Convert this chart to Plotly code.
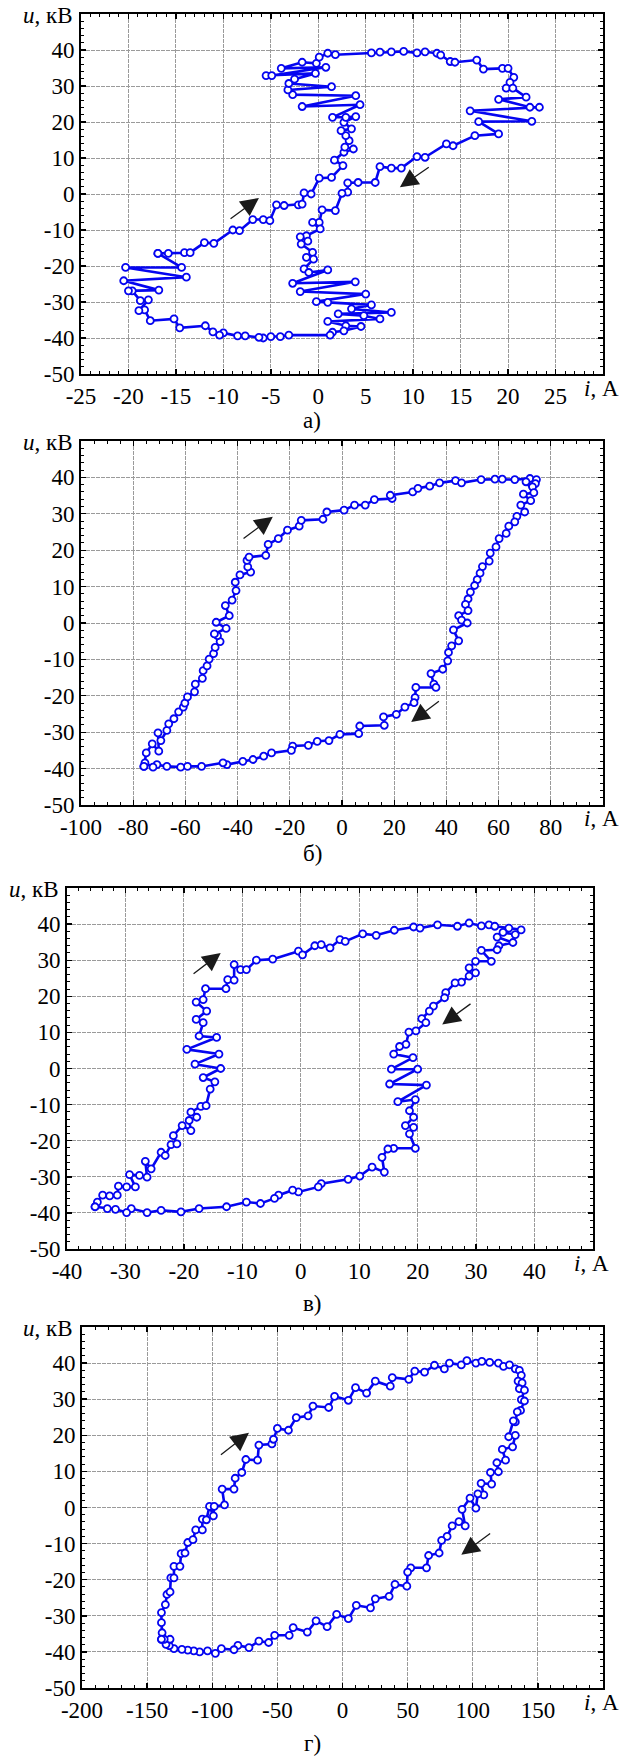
import plotly.graph_objects as go

# ---------------- data: panel а) ----------------
a_i = [-16.9,-15.8,-14.1,-13.5,-12.0,-11.0,-9.0,-8.3,-6.9,-5.8,-5.1,-4.4,-3.6,-2.1,-1.7,-1.5,-0.75,0.1,1.4,2.6,
       1.7,2.7,3.7,2.8,3.25,2.9,2.4,3.5,2.7,3.95,2.9,1.5,4.4,-1.7,3.95,-2.7,-3.2,1.4,-3.1,-2.5,
       -0.3,-5.5,-4.9,0.8,-3.9,-1.7,-0.2,0.1,1.0,1.8,5.6,6.5,7.7,9.0,10.4,11.25,12.5,12.9,13.9,14.4,
       16.7,17.4,19.4,20.0,20.6,20.2,19.8,20.5,21.9,19.0,22.3,23.3,16.0,22.5,16.9,19.0,16.5,14.2,13.5,11.25,
       10.4,8.75,7.7,6.5,6.0,4.2,3.1,3.1,2.5,1.8,0.4,0.1,-0.6,0.2,-1.25,-1.9,-1.1,-1.8,-0.6,-1.25,
       -0.5,-1.5,-1.0,1.0,-2.7,3.9,-1.9,5.0,-0.2,1.0,5.6,3.5,7.7,2.1,4.8,6.5,1.0,2.9,4.5,2.7,
       1.5,1.25,-3.1,-4.0,-5.0,-5.8,-6.25,-7.7,-8.5,-10.0,-10.4,-11.1,-11.9,-14.6,-15.2,-17.7,-18.3,-18.9,-17.9,-18.75,
       -19.6,-20.0,-16.8,-20.5,-13.9,-20.3,-14.4,-16.9]
a_u = [-16.5,-16.5,-16.3,-16.3,-13.5,-13.7,-10.0,-10.2,-7.1,-7.1,-7.4,-3.0,-3.2,-3.0,-2.8,0.3,0.0,4.4,4.6,7.9,
       9.4,11.6,12.5,13.0,14.8,16.2,17.6,18.1,19.9,21.5,21.3,21.3,24.8,24.3,27.3,27.6,28.9,29.8,30.7,31.9,
       33.5,32.9,32.9,35.2,34.9,36.6,36.3,38.0,39.1,38.7,39.2,39.4,39.5,39.6,39.2,39.5,39.1,38.6,36.8,36.6,
       37.2,34.7,34.9,34.9,32.4,31.0,29.4,29.4,26.9,26.3,24.1,24.1,23.1,20.2,20.1,16.7,16.2,13.4,13.9,10.2,
       10.4,7.2,7.2,7.6,3.2,3.2,3.1,0.5,0.2,-4.6,-4.4,-7.9,-7.9,-9.7,-11.6,-11.9,-13.1,-13.9,-16.2,-17.6,
       -18.1,-20.8,-21.8,-21.1,-24.8,-24.4,-27.1,-27.8,-29.9,-30.1,-30.8,-31.9,-32.9,-33.3,-33.8,-34.7,-35.4,-36.6,-36.8,-38.0,
       -38.4,-39.2,-39.2,-39.6,-39.6,-40.0,-39.8,-39.4,-39.4,-38.6,-39.2,-38.3,-36.6,-37.2,-34.7,-35.2,-32.2,-32.4,-29.4,-29.6,
       -26.9,-26.9,-26.7,-24.1,-23.1,-20.4,-20.4,-16.5]

# ---------------- data: panel б) ----------------
b_i = [-75.9,-75.0,-72.7,-70.2,-70.5,-69.4,-67.1,-66.4,-64.4,-62.6,-60.8,-60.2,-59.2,-56.5,-56.2,-53.5,-53.2,-51.7,-50.9,-49.2,
       -48.6,-46.7,-47.7,-48.9,-44.4,-48.2,-43.2,-44.7,-42.1,-40.6,-40.9,-39.1,-35.0,-36.1,-36.4,-35.6,-29.2,-28.3,-24.4,-20.9,
       -16.4,-15.6,-7.3,-5.8,0.8,4.8,8.9,12.4,19.2,18.5,27.1,29.1,33.6,37.4,43.5,45.8,53.3,58.6,61.4,66.2,
       72.0,74.5,74.1,73.0,70.5,73.5,69.5,72.3,68.5,70.0,67.0,66.2,63.9,62.9,60.2,59.0,56.8,56.4,53.8,52.9,
       51.8,50.8,49.2,48.3,47.3,48.3,44.7,45.8,48.0,42.7,44.7,42.0,40.8,40.5,38.6,34.1,35.2,36.0,28.3,28.0,
       27.6,24.1,20.8,15.9,16.2,6.8,6.4,-0.8,-5.0,-9.5,-12.9,-18.9,-19.4,-27.0,-30.0,-34.1,-38.0,-44.1,-45.6,-53.8,
       -59.2,-61.8,-67.1,-70.9,-72.4,-75.5,-75.9]
b_u = [-39.4,-35.7,-33.2,-35.2,-30.2,-32.3,-29.5,-27.7,-26.3,-24.4,-23.1,-22.0,-20.3,-18.9,-16.8,-15.2,-13.1,-11.8,-9.9,-8.4,
       -6.7,-5.1,-3.5,-3.0,-1.5,0.2,2.0,4.8,6.3,8.9,11.2,13.2,14.0,15.4,17.2,18.1,18.6,21.6,23.2,25.5,
       26.6,28.2,28.5,30.5,31.0,32.4,32.4,33.9,34.2,35.1,36.0,37.0,37.6,38.5,39.1,38.5,39.4,39.5,39.5,39.4,
       39.7,39.4,38.3,37.4,38.8,35.8,35.4,33.6,32.4,30.5,29.3,27.8,26.6,24.6,23.2,20.9,19.2,17.0,15.5,13.7,
       11.9,10.3,8.5,6.6,5.1,3.4,2.0,0.8,0.0,-1.9,-4.9,-6.3,-8.1,-10.4,-12.7,-13.9,-16.8,-17.7,-17.7,-20.5,
       -21.9,-23.1,-25.1,-25.8,-28.1,-28.3,-30.4,-30.6,-32.3,-32.5,-33.6,-33.8,-35.0,-35.7,-36.6,-37.5,-38.0,-38.9,-38.4,-39.4,
       -39.4,-39.6,-39.4,-38.9,-39.6,-38.4,-39.4]

# ---------------- data: panel в) ----------------
v_i = [-35.2,-34.8,-33.9,-32.7,-31.4,-31.2,-29.8,-28.3,-29.3,-27.6,-26.3,-26.6,-25.6,-23.9,-23.2,-22.2,-21.2,-21.8,-20.3,-18.8,
       -19.1,-17.8,-18.8,-17.1,-16.2,-15.5,-14.7,-16.7,-13.7,-18.1,-14.0,-19.5,-14.4,-17.4,-16.7,-17.9,-16.1,-17.9,-16.7,-16.3,
       -12.8,-12.5,-11.4,-11.4,-10.3,-9.3,-7.6,-4.8,-0.4,0.3,2.4,3.5,5.0,6.7,7.6,10.6,12.9,16.0,19.3,20.4,
       23.4,26.8,28.8,30.9,32.2,33.2,35.6,37.7,36.7,34.6,33.6,36.3,33.9,33.6,30.9,32.6,29.9,28.8,29.9,28.8,
       27.5,26.4,24.8,24.6,22.7,22.0,20.7,21.4,19.7,18.5,18.0,16.9,15.9,19.2,15.5,20.0,15.2,21.5,16.6,19.6,
       18.6,19.3,17.9,19.3,18.6,19.6,15.9,14.9,13.9,14.3,12.2,10.1,8.1,3.5,3.0,-0.4,-1.4,-3.8,-4.5,-6.9,
       -9.3,-12.7,-17.4,-20.5,-23.9,-26.3,-29.0,-29.8,-31.7,-33.1,-35.2]
v_u = [-38.3,-37.0,-35.1,-35.3,-35.1,-32.6,-32.8,-32.8,-29.4,-29.6,-30.1,-25.7,-27.8,-23.2,-24.1,-21.1,-20.9,-18.6,-15.8,-17.2,
       -14.4,-13.5,-12.1,-10.5,-10.3,-5.7,-3.7,-2.5,0.0,1.2,4.0,5.3,8.6,9.0,12.7,13.6,15.9,18.4,19.1,22.1,
       22.1,24.6,24.5,28.8,27.4,27.4,30.0,30.3,32.5,31.5,34.0,34.3,33.4,35.7,35.2,37.3,36.9,38.3,39.2,38.9,
       39.8,39.4,40.3,39.5,39.8,39.4,38.9,38.4,37.1,37.7,36.4,34.9,34.0,32.9,32.7,29.7,29.7,27.9,26.5,25.6,
       23.9,23.7,21.0,19.6,17.3,15.9,13.8,12.7,10.4,10.1,6.7,6.1,4.0,3.0,-0.2,-0.2,-4.3,-4.6,-9.2,-8.6,
       -11.7,-13.5,-15.8,-16.3,-18.1,-22.1,-22.1,-22.3,-24.6,-28.7,-27.3,-29.8,-30.7,-31.9,-32.8,-34.2,-33.7,-35.1,-36.0,-37.4,
       -37.0,-38.3,-38.8,-39.7,-39.3,-39.9,-38.8,-39.9,-39.0,-38.8,-38.3]

# ---------------- data: panel г) ----------------
g_i = [-139.0,-138.5,-139.0,-139.0,-136.0,-134.8,-132.4,-131.8,-129.4,-129.4,-124.8,-123.9,-120.9,-118.8,-114.8,-112.7,-107.6,-107.6,-104.5,-102.1,
       -99.1,-98.5,-90.6,-92.4,-83.3,-82.4,-77.3,-74.2,-65.2,-64.2,-54.2,-53.0,-50.0,-41.5,-35.5,-26.4,-22.7,-10.6,-6.1,4.5,
       10.0,18.5,25.2,36.7,38.2,50.9,55.5,63.0,70.6,78.2,82.1,91.2,95.5,102.4,107.0,113.0,119.7,123.6,128.2,132.7,
       135.8,137.3,134.8,137.9,135.8,139.7,137.3,139.7,136.7,134.2,132.7,131.2,127.6,132.7,130.6,122.7,125.2,118.5,119.7,113.6,
       114.5,106.4,108.5,103.9,102.4,97.9,91.8,94.2,89.4,84.2,80.3,76.1,74.2,66.1,64.5,52.4,50.0,49.4,40.3,35.8,
       25.2,21.5,10.6,4.5,-4.5,-11.8,-20.3,-27.0,-37.9,-40.9,-52.1,-56.7,-64.2,-71.8,-80.3,-83.3,-93.0,-97.6,-103.6,-109.7,
       -114.2,-118.8,-123.3,-129.4,-133.0,-135.5,-132.4,-136.9,-139.0]
g_u = [-36.5,-34.7,-31.9,-29.1,-26.9,-24.1,-23.4,-19.5,-19.5,-16.3,-16.3,-12.8,-12.6,-9.7,-8.9,-6.2,-6.2,-3.2,-3.4,0.3,
       -2.3,0.3,0.7,5.1,5.1,8.1,9.7,13.3,13.1,17.3,17.6,18.9,21.9,21.4,24.9,25.4,28.1,27.7,30.8,29.7,
       33.2,31.7,35.0,33.6,36.0,35.5,37.8,37.5,39.4,38.4,40.0,39.5,40.7,40.0,40.5,40.2,40.0,39.1,39.5,38.4,
       38.0,36.6,35.0,34.5,32.9,32.5,29.9,29.5,26.9,26.5,23.7,24.0,19.6,20.0,16.8,16.1,13.1,12.4,9.9,9.7,
       6.5,6.7,3.5,3.8,-0.2,2.6,-0.5,-5.1,-3.9,-5.1,-8.0,-9.1,-12.6,-13.3,-16.7,-16.7,-17.9,-21.8,-21.3,-24.6,
       -25.3,-27.8,-27.1,-30.8,-29.6,-33.0,-31.4,-34.5,-33.3,-35.4,-35.4,-37.4,-37.0,-38.8,-38.2,-39.4,-39.1,-40.4,-39.7,-40.0,
       -39.7,-39.5,-39.3,-39.1,-38.3,-37.9,-36.5,-36.5,-36.5]

# ---------------- tick labels ----------------
u_ticks = [-50, -40, -30, -20, -10, 0, 10, 20, 30, 40]
a_xticks = [-25, -20, -15, -10, -5, 0, 5, 10, 15, 20, 25]
b_xticks = [-100, -80, -60, -40, -20, 0, 20, 40, 60, 80]
v_xticks = [-40, -30, -20, -10, 0, 10, 20, 30, 40]
g_xticks = [-200, -150, -100, -50, 0, 50, 100, 150]
captions = ["а)", "б)", "в)", "г)"]

# direction arrows: (tail_i, tail_u, head_i, head_u)
a_arrows = [(-9.4, -7.2, -6.25, -1.1), (11.8, 7.7, 8.6, 1.9)]
b_arrows = [(-38.3, 22.9, -26.5, 29.2), (37.7, -21.2, 26.5, -27.2)]
v_arrows = [(-18.6, 25.9, -13.7, 32.0), (29.3, 18.2, 24.2, 12.2)]
g_arrows = [(-94.5, 14.3, -71.8, 20.7), (114.5, -6.9, 91.2, -13.1)]

for n, (xs, ys) in {"a": (a_i, a_u), "b": (b_i, b_u), "v": (v_i, v_u), "g": (g_i, g_u)}.items():
    assert len(xs) == len(ys), (n, len(xs), len(ys))

W, H = 622, 1758
FONT = "'Liberation Serif', 'Times New Roman', 'DejaVu Serif', serif"
FS = 23

panels = [
    dict(i=a_i, u=a_u, xr=[-25, 30], xt=a_xticks, xm=1, px=(81, 603), py=(14, 374), capy=420, ar=a_arrows, ulx=75),
    dict(i=b_i, u=b_u, xr=[-100, 100], xt=b_xticks, xm=5, px=(81, 603), py=(441, 805), capy=853, ar=b_arrows, ulx=75),
    dict(i=v_i, u=v_u, xr=[-40, 50], xt=v_xticks, xm=2, px=(67, 593), py=(888, 1249), capy=1303, ar=v_arrows, ulx=61),
    dict(i=g_i, u=g_u, xr=[-200, 200], xt=g_xticks, xm=10, px=(82, 603), py=(1327, 1688), capy=1743, ar=g_arrows, ulx=75),
]

fig = go.Figure()
annotations = []

BLUE = "#0505f0"

for k, p in enumerate(panels):
    sfx = "" if k == 0 else str(k + 1)
    xa, ya = "x" + sfx, "y" + sfx
    fig.add_trace(go.Scatter(
        x=p["i"], y=p["u"], xaxis=xa, yaxis=ya, mode="lines+markers",
        line=dict(color=BLUE, width=2.6),
        marker=dict(symbol="circle", size=7, color="white", line=dict(color=BLUE, width=1.8)),
        hoverinfo="x+y", showlegend=False))
    common = dict(
        showgrid=True, gridcolor="#9a9a9a", gridwidth=1, griddash="4px,1px",
        showline=True, linecolor="black", linewidth=2, mirror="allticks",
        ticks="inside", ticklen=5, tickwidth=1.4, tickcolor="black",
        zeroline=False, tickfont=dict(family=FONT, size=FS, color="black"),
        fixedrange=True, tickmode="array", automargin=False)
    x0, x1 = p["px"]
    y0, y1 = p["py"]
    fig.update_layout(**{
        ("xaxis" + sfx): dict(common, domain=[x0 / W, x1 / W], anchor=ya, range=p["xr"],
                             tickvals=p["xt"], ticktext=[str(v) for v in p["xt"]],
                             minor=dict(tick0=p["xr"][0], dtick=p["xm"], ticks="inside", ticklen=3,
                                        tickwidth=1, tickcolor="black", showgrid=False)),
        ("yaxis" + sfx): dict(common, domain=[1 - y1 / H, 1 - y0 / H], anchor=xa, range=[-50, 50],
                             tickvals=u_ticks, ticktext=[str(v) for v in u_ticks],
                             minor=dict(tick0=-50, dtick=2, ticks="inside", ticklen=3,
                                        tickwidth=1, tickcolor="black", showgrid=False)),
    })
    annotations.append(dict(xref="paper", yref="paper", x=(x1 - 2) / W, y=1 - (y1 + 14) / H,
                            text="<i>i</i>, А", showarrow=False, xanchor="center", yanchor="middle",
                            font=dict(family=FONT, size=FS, color="black")))
    annotations.append(dict(xref="paper", yref="paper", x=p["ulx"] / W, y=1 - (y0 + 1) / H,
                            text="<i>u</i>, кВ", showarrow=False, xanchor="right", yanchor="middle",
                            font=dict(family=FONT, size=FS, color="black")))
    annotations.append(dict(xref="paper", yref="paper", x=312 / W, y=1 - p["capy"] / H,
                            text=captions[k], showarrow=False, xanchor="center", yanchor="middle",
                            font=dict(family=FONT, size=FS, color="black")))
    for (tx, ty, hx, hy) in p["ar"]:
        annotations.append(dict(xref=xa, yref=ya, axref=xa, ayref=ya, x=hx, y=hy, ax=tx, ay=ty,
                                text="", showarrow=True, arrowhead=2, arrowsize=2.8, arrowwidth=1.3,
                                arrowcolor="#1a1a1a", standoff=0, startstandoff=0))

fig.update_layout(width=W, height=H, margin=dict(l=0, r=0, t=0, b=0, pad=0),
                  paper_bgcolor="white", plot_bgcolor="white", showlegend=False,
                  font=dict(family=FONT, size=FS, color="black"),
                  annotations=annotations)

fig.write_html("out.html", config={"displayModeBar": False, "staticPlot": True},
               post_script="document.body.style.margin='0';document.body.style.overflow='hidden';"
                           "document.documentElement.style.overflow='hidden';")
